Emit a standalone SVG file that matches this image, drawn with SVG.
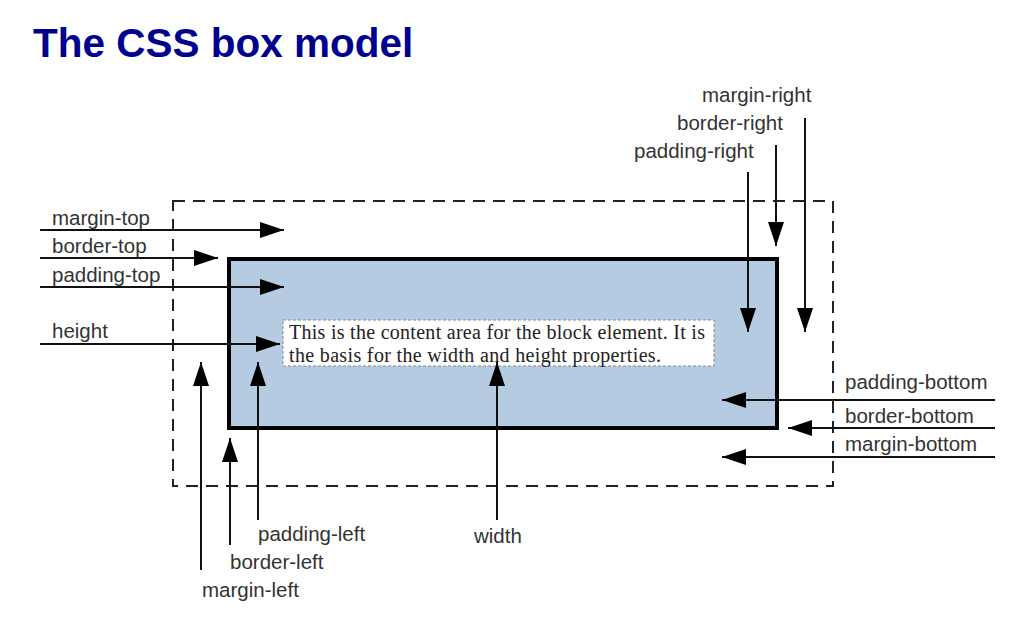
<svg xmlns="http://www.w3.org/2000/svg" width="1036" height="634" viewBox="0 0 1036 634">
<style>
.l{font-family:"Liberation Sans",Arial,sans-serif;font-size:20.5px;fill:#333}
.c{stroke:#111;stroke-width:2;fill:none}
</style>
<defs><marker id="a" viewBox="0 0 24 16" refX="24" refY="8" markerWidth="24" markerHeight="16" markerUnits="userSpaceOnUse" orient="auto"><path d="M0,0L24,8L0,16z" fill="#000"/></marker></defs>
<rect width="1036" height="634" fill="#fff"/>
<text x="33" y="57" font-family="Liberation Sans,Arial,sans-serif" font-weight="bold" font-size="40.5" fill="#000090">The CSS box model</text>
<g id="margin"><rect x="173" y="201" width="660" height="285" fill="none" stroke="#222" stroke-width="2" stroke-dasharray="12,8"/></g>
<g id="border"><rect x="229" y="259" width="548" height="169" fill="#b4cbe2" stroke="#000" stroke-width="4"/></g>
<g id="content"><rect x="283" y="320" width="431" height="46" fill="#fff" stroke="#888" stroke-width="1" stroke-dasharray="3,2"/>
<text font-family="Liberation Serif,Times New Roman,serif" font-size="20" fill="#222"><tspan x="289" y="339" textLength="416">This is the content area for the block element. It is</tspan><tspan x="289" y="362" textLength="372">the basis for the width and height properties.</tspan></text></g>
<g id="connectors" class="c" marker-end="url(#a)">
<line x1="40" y1="230" x2="284" y2="230"/>
<line x1="40" y1="258" x2="218" y2="258"/>
<line x1="40" y1="287" x2="284" y2="287"/>
<line x1="40" y1="344" x2="280" y2="344"/>
<line x1="201" y1="570" x2="201" y2="362"/>
<line x1="230" y1="545" x2="230" y2="438"/>
<line x1="258" y1="520" x2="258" y2="362"/>
<line x1="497" y1="520" x2="497" y2="362"/>
<line x1="748" y1="172" x2="748" y2="332"/>
<line x1="776" y1="145" x2="776" y2="246"/>
<line x1="805" y1="118" x2="805" y2="332"/>
<line x1="995" y1="400" x2="722" y2="400"/>
<line x1="995" y1="428" x2="788" y2="428"/>
<line x1="995" y1="457" x2="722" y2="457"/>
</g>
<g id="labels" class="l">
<text x="52" y="225">margin-top</text>
<text x="52" y="253">border-top</text>
<text x="52" y="282">padding-top</text>
<text x="52" y="338">height</text>
<text x="702" y="102">margin-right</text>
<text x="677" y="130">border-right</text>
<text x="634" y="158">padding-right</text>
<text x="845" y="389">padding-bottom</text>
<text x="845" y="423">border-bottom</text>
<text x="845" y="451">margin-bottom</text>
<text x="258" y="541">padding-left</text>
<text x="230" y="569">border-left</text>
<text x="202" y="597">margin-left</text>
<text x="474" y="543">width</text>
</g>
</svg>
